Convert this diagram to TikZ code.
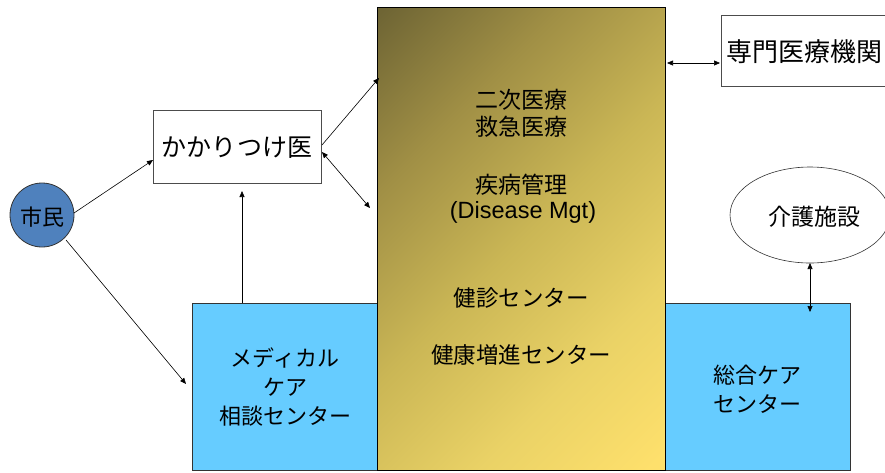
\documentclass[tikz,border=0pt]{standalone}
\usepackage{fontspec}
\setmainfont{Noto Sans CJK JP}
\newfontfamily\latinfont{Liberation Sans}
\usetikzlibrary{arrows.meta,shapes.geometric}
\definecolor{olivedark}{HTML}{6B6233}
\definecolor{olivequart}{HTML}{A08F45}
\definecolor{olivemid}{HTML}{CAB655}
\definecolor{goldquart}{HTML}{EAD266}
\definecolor{goldlight}{HTML}{FEE06C}
\definecolor{skyfill}{HTML}{66CCFF}
\definecolor{citizen}{HTML}{4F81BD}
\pgfdeclareverticalshading{goldshade}{100bp}{color(0bp)=(goldlight); color(16bp)=(goldlight); color(32bp)=(goldquart); color(50bp)=(olivemid); color(68bp)=(olivequart); color(86bp)=(olivedark); color(100bp)=(olivedark)}
\tikzset{
  conn/.style={draw=black, line width=0.6pt, -{Triangle[length=6pt,width=5pt]}},
  dconn/.style={draw=black, line width=0.6pt, {Triangle[length=6pt,width=5pt]}-{Triangle[length=6pt,width=5pt]}},
  whitebox/.style={draw=black!70, fill=white, line width=0.6pt, inner sep=0pt},
  bluebox/.style={draw=black!80, fill=skyfill, line width=0.6pt, inner sep=0pt},
  lbl/.style={font=\fontsize{22}{26}\selectfont, align=center, inner sep=0pt},
}
\begin{document}
\begin{tikzpicture}[x=1pt,y=-1pt]
\useasboundingbox (0,0) rectangle (885,472);
% blue side boxes
\node[bluebox, minimum width=185pt, minimum height=167pt] (lbox) at (284.5,386.5) {};
\node[bluebox, minimum width=185pt, minimum height=167pt] (rbox) at (757.5,386.5) {};
% big gradient column
\node[draw=black, line width=0.6pt, inner sep=0pt, minimum width=288pt, minimum height=463pt,
      shading=goldshade, shading angle=45] (core) at (521,238.5) {};
% boxes
\node[whitebox, minimum width=168pt, minimum height=73pt] (kakari) at (237,146.5) {};
\node[lbl, font=\fontsize{25}{28}\selectfont] (kakaritext) at (237,148) {かかりつけ医};
\node[whitebox, minimum width=175pt, minimum height=71pt, anchor=west] (senmon) at (721,50.5) {};
\node[lbl, font=\fontsize{26}{28}\selectfont, anchor=west] (senmontext) at (726,52) {専門医療機関};
\node[draw=black!80, fill=white, line width=0.6pt, ellipse, minimum width=160pt, minimum height=96pt, inner sep=0pt] (kaigo) at (810,215) {};
\node[lbl, font=\fontsize{23}{26}\selectfont] (kaigotext) at (814,217) {介護施設};
\node[circle, draw=black!80, fill=citizen, line width=0.8pt, minimum size=64pt, inner sep=0pt] (shimin) at (42,215) {};
\node[lbl] (shimintext) at (42,217) {市民};
% core texts
\node[lbl, font=\fontsize{23}{26}\selectfont] (t1) at (521,100) {二次医療};
\node[lbl, font=\fontsize{23}{26}\selectfont] (t2) at (521,127) {救急医療};
\node[lbl, font=\fontsize{23}{26}\selectfont] (t3) at (521,185) {疾病管理};
\node[lbl, font=\latinfont\fontsize{23.5}{26}\selectfont] (t4) at (523,212) {(Disease Mgt)};
\node[lbl, font=\fontsize{22.5}{26}\selectfont] (t5) at (521,298) {健診センター};
\node[lbl, font=\fontsize{22.5}{26}\selectfont] (t6) at (521,355) {健康増進センター};
% side box texts
\node[lbl] (l1) at (285,358) {メディカル};
\node[lbl] (l2) at (285,387) {ケア};
\node[lbl] (l3) at (285,416) {相談センター};
\node[lbl] (r1) at (757,375) {総合ケア};
\node[lbl] (r2) at (757,404) {センター};
% connector points
\coordinate (s1) at (74,213);
\coordinate (k1) at (153,160);
\coordinate (s2) at (66,240);
\coordinate (lb) at (186,384);
\coordinate (lbtop) at (242,303);
\coordinate (kbot) at (242,191);
\coordinate (kr1) at (322,145);
\coordinate (c1) at (379,78);
\coordinate (kr2) at (322,152);
\coordinate (c2) at (370,208);
\coordinate (cr) at (667,63);
\coordinate (sl) at (720,63);
\coordinate (kb) at (810,263);
\coordinate (rt) at (810,312);
% connectors
\draw[conn] (s1) -- (k1);
\draw[conn] (s2) -- (lb);
\draw[conn] (lbtop) -- (kbot);
\draw[conn] (kr1) -- (c1);
\draw[dconn] (kr2) -- (c2);
\draw[dconn] (cr) -- (sl);
\draw[dconn] (kb) -- (rt);
\end{tikzpicture}
\end{document}
